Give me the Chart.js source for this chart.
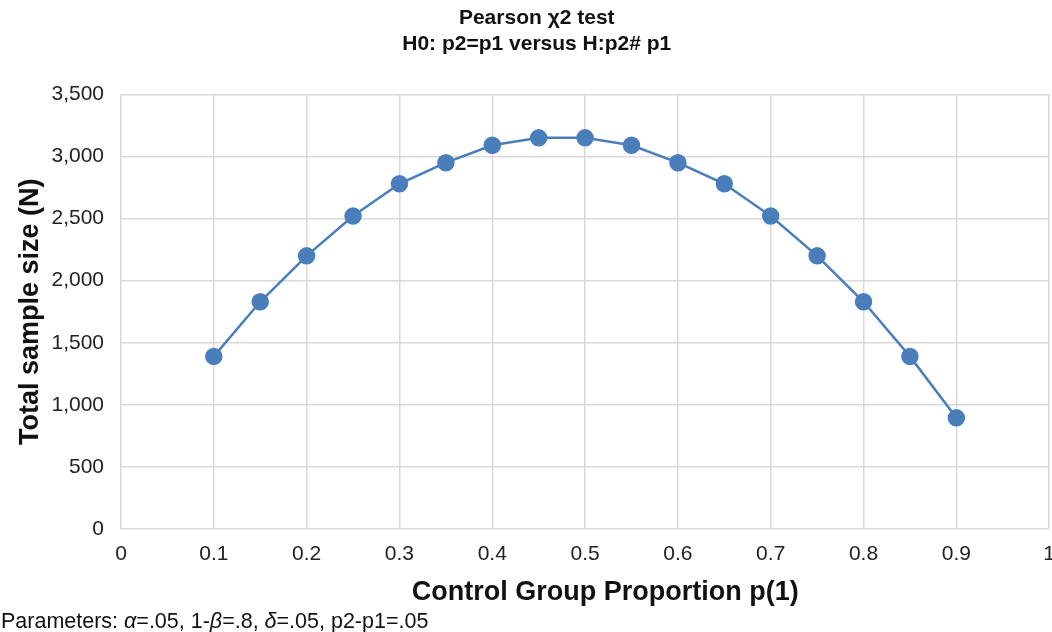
<!DOCTYPE html>
<html>
<head>
<meta charset="utf-8">
<script src="https://cdn.jsdelivr.net/npm/chart.js@4"></script>
<style>
  html, body { margin: 0; padding: 0; background: #fff; overflow: hidden; }
  #wrap { position: relative; width: 1052px; height: 632px; overflow: hidden; }
  #chartBox { position: absolute; left: 0; top: 0; width: 1068px; height: 612px; }
  #note {
    position: absolute; left: 1px; top: 609px; line-height: 24px;
    font-family: "Liberation Sans", Arial, sans-serif; font-size: 21.5px; color: #111;
  }
</style>
</head>
<body>
<div id="wrap">
  <div id="chartBox"><canvas id="sampleChart"></canvas></div>
  <div id="note">Parameters: <i>α</i>=.05, 1-<i>β</i>=.8, <i>δ</i>=.05, p2-p1=.05</div>
</div>
<script>
// Data
const proportions = [0.1, 0.15, 0.2, 0.25, 0.3, 0.35, 0.4, 0.45, 0.5, 0.55, 0.6, 0.65, 0.7, 0.75, 0.8, 0.85, 0.9];
const sampleSizes = [1390, 1830, 2200, 2520, 2780, 2950, 3090, 3150, 3150, 3090, 2950, 2780, 2520, 2200, 1830, 1390, 895];
// leading en space nudges the centred title slightly right, as in the original
const titleLines = ['\u2002Pearson χ2 test', '\u2002H0: p2=p1 versus H:p2# p1'];

const font = '"Liberation Sans", Arial, sans-serif';
const gridColor = '#d9d9d9';

const ctx = document.getElementById('sampleChart').getContext('2d');
const sampleChart = new Chart(ctx, {
    type: 'line',
    data: {
        datasets: [{
            data: proportions.map((p, i) => ({ x: p, y: sampleSizes[i] })),
            borderColor: '#4a7ebb',
            backgroundColor: '#4a7ebb',
            borderWidth: 2.5,
            pointRadius: 7.5,
            pointHoverRadius: 7.5,
            tension: 0
        }]
    },
    options: {
        responsive: true,
        maintainAspectRatio: false,
        animation: false,
        layout: { padding: { left: 0, right: 5, top: 6, bottom: 0 } },
        plugins: {
            legend: { display: false },
            tooltip: { enabled: false },
            title: {
                display: true,
                text: titleLines,
                color: '#111',
                font: { family: font, size: 21, weight: 'bold', lineHeight: 1.2 },
                padding: { top: 0, bottom: 38 }
            }
        },
        scales: {
            x: {
                type: 'linear',
                min: 0,
                max: 1,
                afterFit: scale => { scale.height = 83; },
                ticks: {
                    stepSize: 0.1,
                    color: '#222',
                    font: { family: font, size: 21 },
                    padding: 13,
                    callback: v => String(+v.toFixed(1))
                },
                grid: { color: gridColor, lineWidth: 1.5, drawTicks: false },
                border: { display: false },
                title: {
                    display: true,
                    // en spaces push the title a little right, as in the original
                    text: '\u2002\u2002\u2002Control Group Proportion p(1)',
                    color: '#111',
                    font: { family: font, size: 27, weight: 'bold' },
                    padding: { top: 0, bottom: 3 }
                }
            },
            y: {
                min: 0,
                max: 3500,
                afterFit: scale => { scale.width = 121; },
                ticks: {
                    stepSize: 500,
                    color: '#222',
                    font: { family: font, size: 21 },
                    padding: 17
                },
                grid: { color: gridColor, lineWidth: 1.5, drawTicks: false },
                border: { display: false },
                title: {
                    display: true,
                    text: 'Total sample size (N)',
                    color: '#111',
                    font: { family: font, size: 27, weight: 'bold' },
                    padding: { top: 14, bottom: 0 }
                }
            }
        }
    }
});
</script>
</body>
</html>
